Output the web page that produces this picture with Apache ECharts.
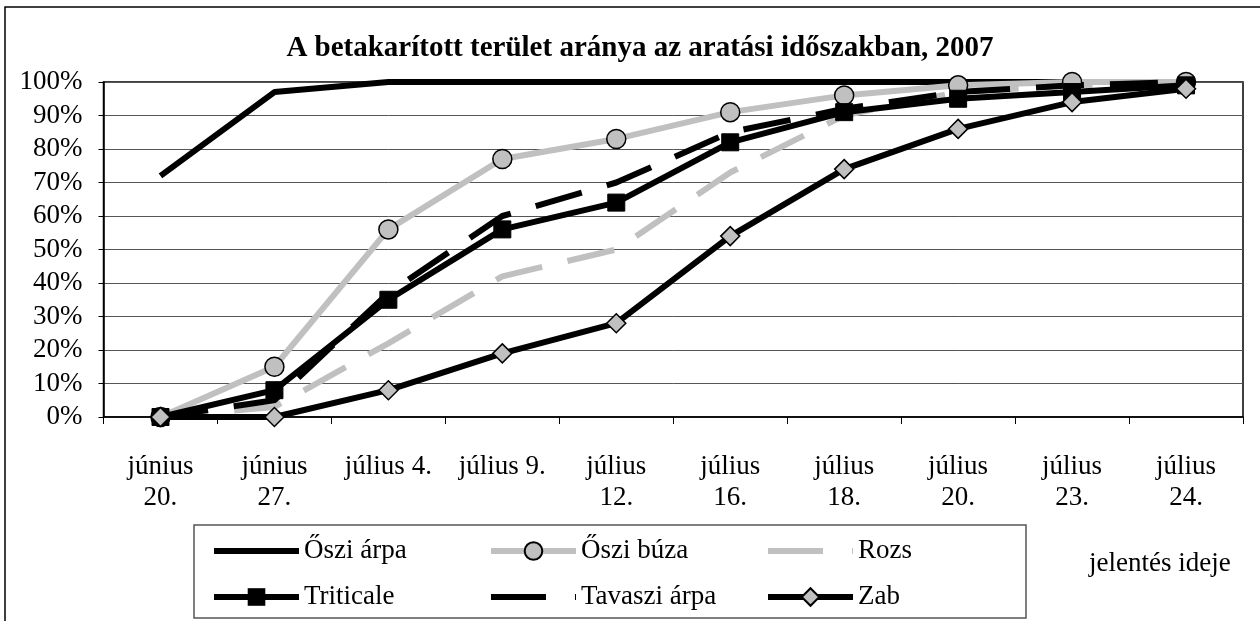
<!DOCTYPE html>
<html><head><meta charset="utf-8">
<script src="https://cdn.jsdelivr.net/npm/echarts@6/dist/echarts.min.js"></script>
<style>html,body{margin:0;padding:0;background:#fff}#c{width:1260px;height:621px}</style>
</head><body><div id="c"></div>
<script>
const categories = ["június\n20.", "június\n27.", "július 4.", "július 9.", "július\n12.", "július\n16.", "július\n18.", "július\n20.", "július\n23.", "július\n24."];
const osziArpa = [72, 97, 100, 100, 100, 100, 100, 100, 100, 100];
const osziBuza = [0, 15, 56, 77, 83, 91, 96, 99, 100, 100];
const rozs = [0, 3, 22, 42, 50, 73, 90, 97, 99, 100];
const triticale = [0, 8, 35, 56, 64, 82, 91, 95, 97, 99];
const tavasziArpa = [0, 5, 37, 60, 70, 85, 92, 97, 99, 100];
const zab = [0, 0, 8, 19, 28, 54, 74, 86, 94, 98];

const FONT = '"Liberation Serif", "Times New Roman", serif';
const FS = 27;
const LG = '#c0c0c0';
const W = 6;
const chart = echarts.init(document.getElementById('c'));
const legendText = {fontFamily: FONT, fontSize: FS, color: '#000', lineHeight: 28};
const legendCommon = {orient: 'vertical', top: 537, itemWidth: 85, itemHeight: 22, itemGap: 18, textStyle: legendText, selectedMode: false, padding: 0};
const hideSym = {opacity: 0};
const dashLeg = {width: W, type: [55, 29], cap: 'butt'};
chart.setOption({
  animation: false,
  backgroundColor: '#fff',
  title: {text: 'A betakarított terület aránya az aratási időszakban, 2007', left: 635, textAlign: 'center', top: 29,
    textStyle: {fontFamily: FONT, fontSize: 29, fontWeight: 'bold', color: '#000'}},
  grid: {left: 103.5, right: 17, top: 82, bottom: 204, show: true, borderColor: '#000', borderWidth: 1.5, backgroundColor: 'transparent'},
  legend: [
    Object.assign({left: 211, data: [
      {name: 'Őszi árpa', itemStyle: hideSym, lineStyle: {width: W}},
      {name: 'Triticale', lineStyle: {width: W}}]}, legendCommon),
    Object.assign({left: 488, data: [
      {name: 'Őszi búza', lineStyle: {width: W}},
      {name: 'Tavaszi árpa', itemStyle: hideSym, lineStyle: dashLeg}]}, legendCommon),
    Object.assign({left: 765, data: [
      {name: 'Rozs', itemStyle: hideSym, lineStyle: dashLeg},
      {name: 'Zab', lineStyle: {width: W}}]}, legendCommon)
  ],
  xAxis: {type: 'category', data: categories, boundaryGap: true,
    axisLine: {lineStyle: {color: '#000', width: 1.5}},
    axisTick: {show: true, length: 7, lineStyle: {color: '#000'}},
    axisLabel: {fontFamily: FONT, fontSize: FS, color: '#000', lineHeight: 31, margin: 34, interval: 0}},
  yAxis: {type: 'value', min: 0, max: 100, interval: 10,
    axisLine: {show: true, lineStyle: {color: '#000', width: 1.5}},
    axisTick: {show: true, length: 5, lineStyle: {color: '#000'}},
    splitLine: {show: true, lineStyle: {color: '#555', width: 1}},
    axisLabel: {fontFamily: FONT, fontSize: FS, color: '#000', margin: 21, formatter: '{value}%'}},
  graphic: [
    {type: 'rect', shape: {x: 5, y: 7, width: 1270, height: 640}, style: {fill: 'none', stroke: '#000', lineWidth: 1.5}, z: 100, silent: true},
    {type: 'rect', shape: {x: 194, y: 525, width: 832, height: 93}, style: {fill: 'none', stroke: '#555', lineWidth: 1.5}, z: 100, silent: true},
    {type: 'text', left: 1089, top: 550, style: {text: 'jelentés ideje', fontFamily: FONT, fontSize: FS, fill: '#000'}}
  ],
  series: [
    {name: 'Őszi árpa', type: 'line', data: osziArpa, symbol: 'none', lineStyle: {color: '#000', width: W}, itemStyle: {color: '#000'}},
    {name: 'Őszi búza', type: 'line', data: osziBuza, symbol: 'circle', symbolSize: 19, lineStyle: {color: LG, width: W}, itemStyle: {color: LG, borderColor: '#000', borderWidth: 1.5}},
    {name: 'Rozs', type: 'line', data: rozs, symbol: 'none', lineStyle: {color: LG, width: W, type: [48, 26], cap: 'butt'}, itemStyle: {color: LG}},
    {name: 'Triticale', type: 'line', data: triticale, symbol: 'rect', symbolSize: 17, lineStyle: {color: '#000', width: W}, itemStyle: {color: '#000', borderColor: '#000'}},
    {name: 'Tavaszi árpa', type: 'line', data: tavasziArpa, symbol: 'none', lineStyle: {color: '#000', width: W, type: [48, 26], cap: 'butt'}, itemStyle: {color: '#000'}},
    {name: 'Zab', type: 'line', data: zab, symbol: 'diamond', symbolSize: 19, lineStyle: {color: '#000', width: W}, itemStyle: {color: LG, borderColor: '#000', borderWidth: 1.5}}
  ]
});
</script></body></html>
